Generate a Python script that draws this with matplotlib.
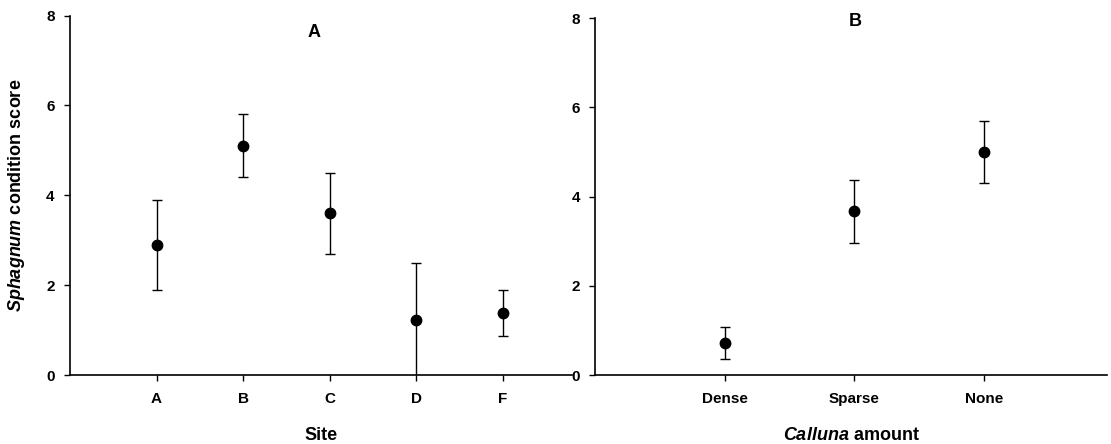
import matplotlib
matplotlib.use("Agg")
import matplotlib.pyplot as plt

plt.rcParams["font.family"] = ["Liberation Sans", "DejaVu Sans"]
plt.rcParams["font.weight"] = "bold"
plt.rcParams["mathtext.fontset"] = "custom"
plt.rcParams["mathtext.it"] = "Liberation Sans:italic:bold"
plt.rcParams["mathtext.rm"] = "Liberation Sans:bold"

# panel A: condition score by site
sites = ["A", "B", "C", "D", "F"]
site_mean = [2.9, 5.1, 3.6, 1.23, 1.38]
site_err = [1.0, 0.7, 0.9, 1.27, 0.51]

# panel B: condition score by Calluna amount
calluna = ["Dense", "Sparse", "None"]
calluna_mean = [0.72, 3.67, 5.0]
calluna_err = [0.35, 0.7, 0.7]

fig = plt.figure(figsize=(11.11, 4.44), dpi=100)
ax1 = fig.add_axes([0.063, 0.155, 0.452, 0.81])
ax2 = fig.add_axes([0.5356, 0.155, 0.461, 0.804])


def panel(ax, labels, mean, err, xmax):
    x = list(range(1, len(labels) + 1))
    ax.errorbar(x, mean, yerr=err, fmt="o", color="black", ms=7.5,
                elinewidth=1.0, capsize=3.5, capthick=1.0)
    ax.set_xlim(0, xmax)
    ax.set_ylim(0, 8)
    ax.set_yticks([0, 2, 4, 6, 8])
    ax.set_xticks(x)
    ax.set_xticklabels(labels, fontsize=11, fontweight="bold")
    for t in ax.get_yticklabels():
        t.set_fontsize(11)
        t.set_fontweight("bold")
    ax.spines["top"].set_visible(False)
    ax.spines["right"].set_visible(False)
    ax.spines["left"].set_linewidth(1.2)
    ax.spines["bottom"].set_linewidth(1.2)
    ax.tick_params(axis="y", direction="out", length=4, pad=7, width=1)
    ax.tick_params(axis="x", direction="out", length=4, pad=8, width=1)


panel(ax1, sites, site_mean, site_err, 5.8)
panel(ax2, calluna, calluna_mean, calluna_err, 3.95)

ax1.set_xlabel("Site", fontsize=13, fontweight="bold", labelpad=15)
ax1.set_ylabel("$\\mathit{Sphagnum}$ condition score", fontsize=13,
               fontweight="bold", labelpad=14)
ax2.set_xlabel("$\\mathit{Calluna}$ amount", fontsize=13,
               fontweight="bold", labelpad=15)

ax1.text(0.486, 0.953, "A", transform=ax1.transAxes, fontsize=13,
         fontweight="bold", ha="center", va="center")
ax2.text(0.508, 0.99, "B", transform=ax2.transAxes, fontsize=13,
         fontweight="bold", ha="center", va="center")

fig.savefig("out.png", dpi=100)
